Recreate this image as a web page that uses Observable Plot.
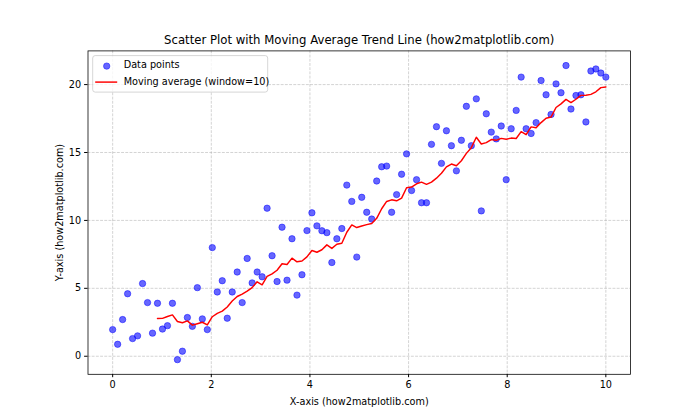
<!DOCTYPE html>
<html>
<head>
<meta charset="utf-8">
<script src="https://cdn.jsdelivr.net/npm/d3@7"></script>
<script src="https://cdn.jsdelivr.net/npm/@observablehq/plot@0.6"></script>
<style>
  html, body { margin: 0; padding: 0; background: #fff; }
  #chart svg { display: block; }
</style>
</head>
<body>
<div id="chart"></div>
<script>
// ---- Data ----
const title = "Scatter Plot with Moving Average Trend Line (how2matplotlib.com)";
const xLabel = "X-axis (how2matplotlib.com)";
const yLabel = "Y-axis (how2matplotlib.com)";
const seriesNames = ["Data points", "Moving average (window=10)"];
const windowSize = 10;
const xTicks = [0, 2, 4, 6, 8, 10];
const yTicks = [0, 5, 10, 15, 20];
const nPoints = 100;
const xStart = 0, xEnd = 10;
const yValues = [
  1.96, 0.88, 2.70, 4.60, 1.30, 1.50, 5.35, 3.95, 1.70, 3.90,
  2.00, 2.25, 3.90, -0.25, 0.37, 2.85, 2.20, 5.05, 2.75, 1.96,
  8.00, 4.73, 5.56, 2.80, 4.73, 6.20, 3.95, 7.20, 5.40, 6.20,
  5.85, 10.90, 7.40, 5.50, 9.50, 5.60, 8.65, 4.50, 6.00, 9.25,
  10.56, 9.60, 9.24, 9.10, 6.90, 8.65, 9.40, 12.60, 11.40, 7.30,
  11.70, 10.60, 10.10, 12.90, 13.95, 14.00, 10.60, 11.90, 13.40, 14.90,
  12.20, 13.00, 11.30, 11.30, 15.60, 16.90, 14.20, 16.60, 15.50, 13.65,
  15.90, 18.40, 15.50, 18.95, 10.70, 17.85, 16.50, 16.00, 16.95, 13.00,
  16.75, 18.10, 20.55, 16.75, 16.40, 17.20, 20.30, 19.25, 17.80, 20.05,
  19.40, 21.40, 18.20, 19.20, 19.25, 17.25, 21.00, 21.15, 20.85, 20.55
];
// x grid: evenly spaced (linspace 0..10, 100 points)
const xValues = d3.range(nPoints).map(i => xStart + (xEnd - xStart) * i / (nPoints - 1));
const data = xValues.map((x, i) => ({x, y: yValues[i]}));

// ---- Layout (matplotlib 10x6 @ 70dpi) ----
const W = 700, H = 420;
const mL = 87.5, mR = 70, mT = 50.4, mB = 46.2;
const font = "DejaVu Sans, sans-serif";

const chart = Plot.plot({
  width: W,
  height: H,
  marginLeft: mL,
  marginRight: mR,
  marginTop: mT,
  marginBottom: mB,
  style: {fontFamily: font, fontSize: "9.7px", color: "#000", background: "#fff"},
  x: {domain: [-0.5, 10.5]},
  y: {domain: [-1.33, 22.48]},
  marks: [
    Plot.gridX(xTicks, {stroke: "#b0b0b0", strokeOpacity: 0.7, strokeWidth: 0.78, strokeDasharray: "2.9,1.3"}),
    Plot.gridY(yTicks, {stroke: "#b0b0b0", strokeOpacity: 0.7, strokeWidth: 0.78, strokeDasharray: "2.9,1.3"}),
    Plot.dot(data, {x: "x", y: "y", r: 3.2, fill: "blue", fillOpacity: 0.6, stroke: "blue", strokeOpacity: 0.6, strokeWidth: 0.8}),
    Plot.lineY(data, Plot.windowY({k: windowSize, anchor: "end", reduce: "mean", strict: true}, {x: "x", y: "y", stroke: "red", strokeWidth: 1.46})),
    Plot.frame({stroke: "#000", strokeWidth: 0.78}),
    Plot.axisX(xTicks, {tickSize: 3.4, tickPadding: 3.4, tickFormat: d => String(d), fontSize: 9.7, label: xLabel, labelAnchor: "center", labelArrow: "none", labelOffset: 31}),
    Plot.axisY(yTicks, {tickSize: 3.4, tickPadding: 3.4, tickFormat: d => String(d), fontSize: 9.7, label: yLabel, labelAnchor: "center", labelArrow: "none", labelOffset: 32}),
    Plot.text([title], {frameAnchor: "top", dy: -10.5, fontSize: 11.7, fill: "#000", lineAnchor: "middle"})
  ]
});

// legend
const svg = d3.select(chart);
const lg = svg.append("g").attr("font-family", font).attr("font-size", "9.7px").attr("text-anchor", "start");
const lx = mL + 5.2, ly = mT + 5.2;
lg.append("rect").attr("x", lx).attr("y", ly).attr("width", 175).attr("height", 36.5)
  .attr("rx", 2.5).attr("fill", "#fff").attr("fill-opacity", 0.8).attr("stroke", "#cccccc").attr("stroke-width", 0.8);
lg.append("circle").attr("cx", lx + 14).attr("cy", ly + 10.5).attr("r", 3.2)
  .attr("fill", "blue").attr("fill-opacity", 0.6).attr("stroke", "blue").attr("stroke-opacity", 0.6).attr("stroke-width", 0.8);
lg.append("text").attr("x", lx + 31).attr("y", ly + 9).attr("dy", "0.35em").attr("fill", "#000").text(seriesNames[0]);
lg.append("line").attr("x1", lx + 2.5).attr("x2", lx + 24.5).attr("y1", ly + 26.5).attr("y2", ly + 26.5)
  .attr("stroke", "red").attr("stroke-width", 1.46);
lg.append("text").attr("x", lx + 31).attr("y", ly + 26).attr("dy", "0.35em").attr("fill", "#000").text(seriesNames[1]);

document.getElementById("chart").appendChild(chart);
</script>
</body>
</html>
